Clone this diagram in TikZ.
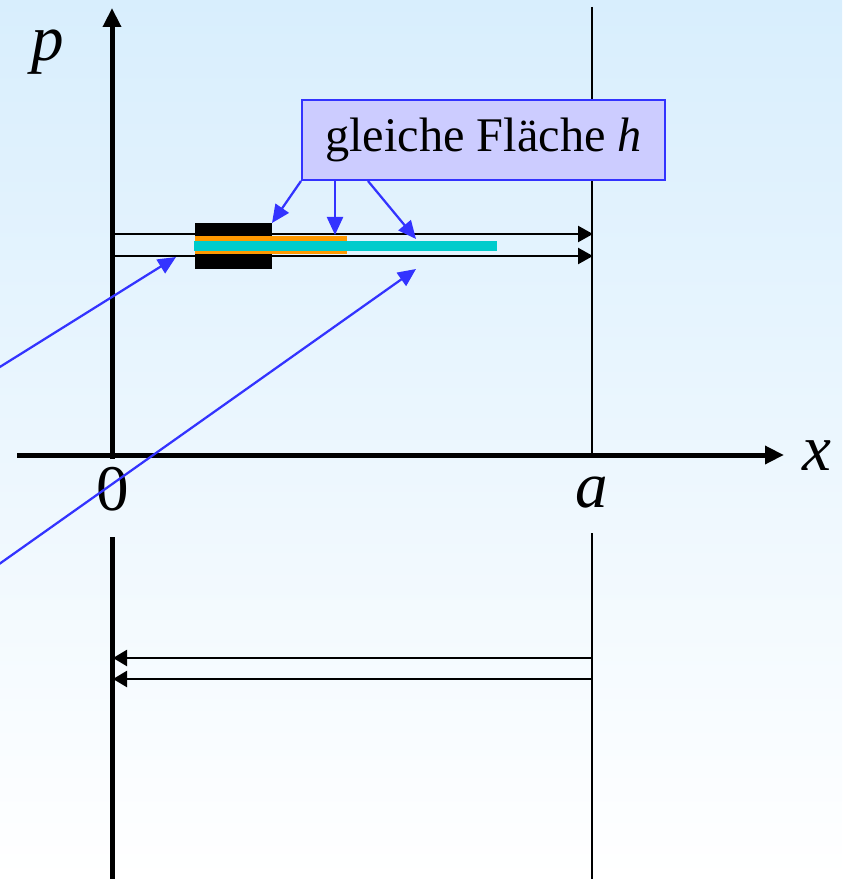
\documentclass[tikz,border=0pt]{standalone}
\usepackage{fontspec}
\setmainfont{Liberation Serif}
\usepackage{xcolor}
\usetikzlibrary{arrows.meta,calc}
\definecolor{bgtop}{RGB}{216,238,253}
\definecolor{hblue}{RGB}{51,51,255}
\definecolor{hfill}{RGB}{204,204,255}
\definecolor{horange}{RGB}{255,153,0}
\definecolor{hcyan}{RGB}{0,204,204}

\begin{document}
\begin{tikzpicture}[
  x=0.2mm, y=-0.2mm,
  axlbl/.style={font=\fontsize{37}{40}\selectfont, anchor=base, inner sep=0pt},
  axisarr/.style={line width=1mm, -{Triangle[length=3.8mm, width=3.5mm]}},
  wall/.style={line width=0.35mm},
  orbit/.style={line width=0.45mm, -{Triangle[length=3mm, width=3.2mm]}},
  back/.style={line width=0.45mm, -{Triangle[length=2.8mm, width=3.2mm]}},
  bar/.style={anchor=west, inner sep=0pt, outer sep=0pt},
  note/.style={draw=hblue, line width=0.4mm, fill=hfill, inner sep=0pt,
               minimum width=72.6mm, minimum height=16mm,
               font=\fontsize{27.5}{32}\selectfont},
  ptr/.style={hblue, line width=0.45mm, -{Triangle[length=3.6mm, width=3.2mm]}}
]
% ---- background ----
\clip (0,0) rectangle (842,879);
\shade[top color=bgtop, bottom color=white] (0,0) rectangle (842,879);

% ---- axes and wall ----
\draw[axisarr] (112,459) -- (112,8);
\draw[line width=1mm] (112,537) -- (112,879);
\draw[axisarr] (17,455) -- (784,455);
\draw[wall] (592,7) -- (592,455);
\draw[wall] (592,533) -- (592,879);

\node[axlbl] (plbl) at (48,61) {\textit{p}};
\node[axlbl] (xlbl) at (817,470) {\textit{x}};
\node[axlbl] (zero) at (113,510) {0};
\node[axlbl] (albl) at (592,507) {\textit{a}};

% ---- bars ----
\node[bar, fill=black, minimum width=15.4mm, minimum height=9.2mm] (blk) at (195,246) {};
\node[bar, fill=horange, minimum width=30.4mm, minimum height=3.6mm] (orng) at (195,245) {};
\node[bar, fill=hcyan, minimum width=60.6mm, minimum height=2mm] (cyn) at (194,246) {};

% ---- orbits ----
\draw[orbit] (114,234) -- (593,234);
\draw[orbit] (114,256) -- (593,256);
\draw[back] (592,658) -- (113,658);
\draw[back] (592,679) -- (113,679);

% ---- label box ----
\node[note] (note) at (483.5,140) {gleiche Fläche \textit{h}};

\coordinate (tipB) at (335,235);
\coordinate (tipC) at (416,239);
\coordinate (tipD) at (176,257);
\coordinate (tipE) at (416,269);
\coordinate (srcD) at (-5,370);
\coordinate (srcE) at (-5,567);

\draw[ptr] (note.south west) -- (blk.north east);
\draw[ptr] (tipB |- note.south) -- (tipB);
\draw[ptr] ($(note.south west)+(67,0)$) -- (tipC);
\draw[ptr] (srcD) -- (tipD);
\draw[ptr] (srcE) -- (tipE);
\end{tikzpicture}
\end{document}
